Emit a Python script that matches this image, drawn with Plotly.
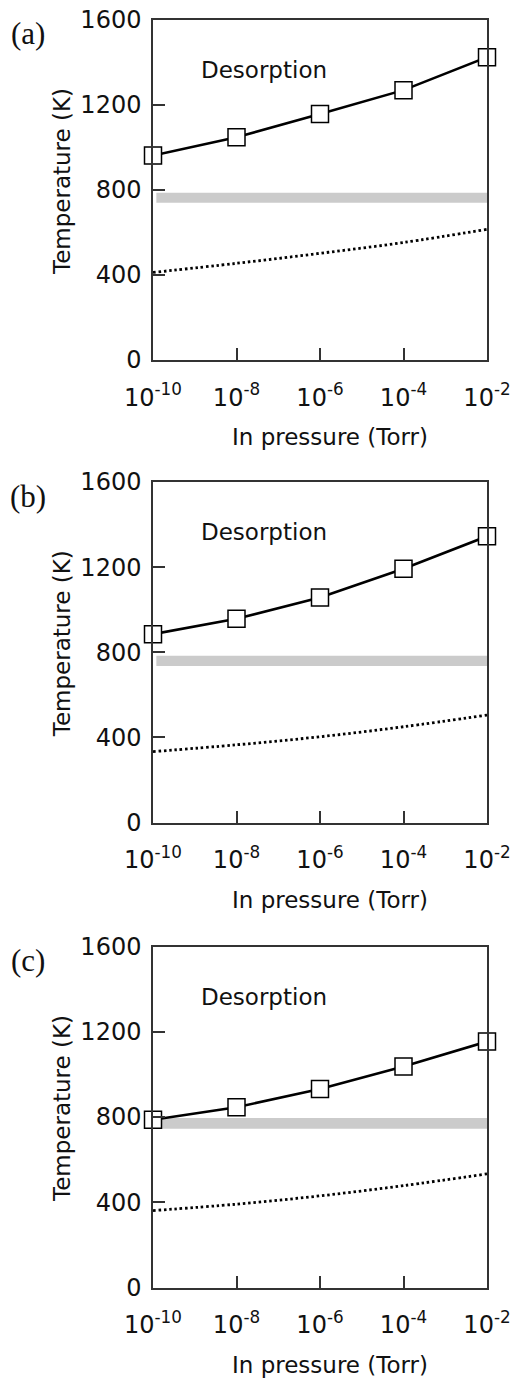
import plotly.graph_objects as go

# ---- data ----
exponents = [-10, -8, -6, -4, -2]          # log10 pressure (Torr)
x_tick_text = ["10<sup>-10</sup>", "10<sup>-8</sup>", "10<sup>-6</sup>",
               "10<sup>-4</sup>", "10<sup>-2</sup>"]
y_ticks = [0, 400, 800, 1200, 1600]

temp_a = [962, 1048, 1158, 1270, 1425]
temp_b = [885, 957, 1057, 1192, 1345]
temp_c = [787, 846, 931, 1037, 1154]

dot_a = [412, 455, 502, 553, 615]
dot_b = [333, 365, 403, 450, 505]
dot_c = [361, 391, 430, 478, 533]

band_a = [740, 787]
band_b = [735, 783]
band_c = [745, 795]
band_x = [-9.92, -2.0]

panel_labels = ["(a)", "(b)", "(c)"]

# ---- layout geometry ----
W, H = 512, 1378
def py(p):
    return 1 - p / H

x_dom = [153 / W, 487 / W]
y_doms = [[py(360), py(20)], [py(822.5), py(482)], [py(1287.5), py(946.5)]]
panel_tops = [20, 482, 946.5]
panel_bots = [360, 822.5, 1287.5]

fig = go.Figure()
temps = [temp_a, temp_b, temp_c]
dots = [dot_a, dot_b, dot_c]
bands = [band_a, band_b, band_c]

axis_font = dict(family="DejaVu Sans", size=24, color="#111")

for i in range(3):
    xa = "x" if i == 0 else f"x{i+1}"
    ya = "y" if i == 0 else f"y{i+1}"
    # grey band
    fig.add_shape(type="rect", xref=xa, yref=ya, x0=band_x[0], x1=band_x[1],
                  y0=bands[i][0], y1=bands[i][1], fillcolor="#cbcbcb",
                  line=dict(width=0), layer="below")
    # dotted line
    fig.add_trace(go.Scatter(x=exponents, y=dots[i], mode="lines",
                             line=dict(color="black", width=2.8, dash="2.5px,2.8px", shape="spline"),
                             xaxis=xa, yaxis=ya, showlegend=False, cliponaxis=False))
    # solid with markers
    fig.add_trace(go.Scatter(x=exponents, y=temps[i], mode="lines+markers",
                             line=dict(color="black", width=2.6),
                             marker=dict(symbol="square", size=17, color="white",
                                         line=dict(color="black", width=1.5)),
                             xaxis=xa, yaxis=ya, showlegend=False, cliponaxis=False))

    xkey = "xaxis" if i == 0 else f"xaxis{i+1}"
    ykey = "yaxis" if i == 0 else f"yaxis{i+1}"
    fig.update_layout(**{
        xkey: dict(domain=x_dom, anchor=ya, range=[-10, -2], tickmode="array",
                   tickvals=exponents, ticktext=x_tick_text, ticks="inside",
                   ticklen=12, tickwidth=1.5, tickcolor="#333", showline=True,
                   linecolor="#333", linewidth=1.5, mirror=True, showgrid=False,
                   zeroline=False, tickfont=axis_font, ticklabelstandoff=15,
                   automargin=False),
        ykey: dict(domain=y_doms[i], anchor=xa, range=[0, 1600], tickmode="array",
                   tickvals=y_ticks, ticks="inside", ticklen=12, tickwidth=1.5,
                   tickcolor="#333", showline=True, linecolor="#333", linewidth=1.5,
                   mirror=True, showgrid=False, zeroline=False, tickfont=axis_font,
                   ticklabelstandoff=5, automargin=False),
    })

    # Desorption label
    fig.add_annotation(x=-7.35, y=1365, xref=xa, yref=ya, text="Desorption",
                       showarrow=False, xanchor="center", yanchor="middle",
                       font=dict(family="DejaVu Sans", size=23, color="#111"))
    # panel label
    fig.add_annotation(x=28 / W, y=py(panel_tops[i] + 14), xref="paper", yref="paper",
                       text=panel_labels[i], showarrow=False, xanchor="center", yanchor="middle",
                       font=dict(family="Liberation Serif", size=31, color="#111"))
    # axis titles
    fig.add_annotation(x=330 / W, y=py(panel_bots[i] + 77), xref="paper", yref="paper",
                       text="In pressure (Torr)", showarrow=False, xanchor="center", yanchor="middle",
                       font=dict(family="DejaVu Sans", size=23, color="#111"))
    fig.add_annotation(x=62 / W, y=py((panel_tops[i] + panel_bots[i]) / 2 - 8),
                       xref="paper", yref="paper", text="Temperature (K)",
                       textangle=-90, showarrow=False, xanchor="center", yanchor="middle",
                       font=dict(family="DejaVu Sans", size=23, color="#111"))

fig.update_layout(width=W, height=H, margin=dict(l=0, r=0, t=0, b=0, autoexpand=False),
                  plot_bgcolor="white", paper_bgcolor="white", template="none")

fig.write_html("out.html")
